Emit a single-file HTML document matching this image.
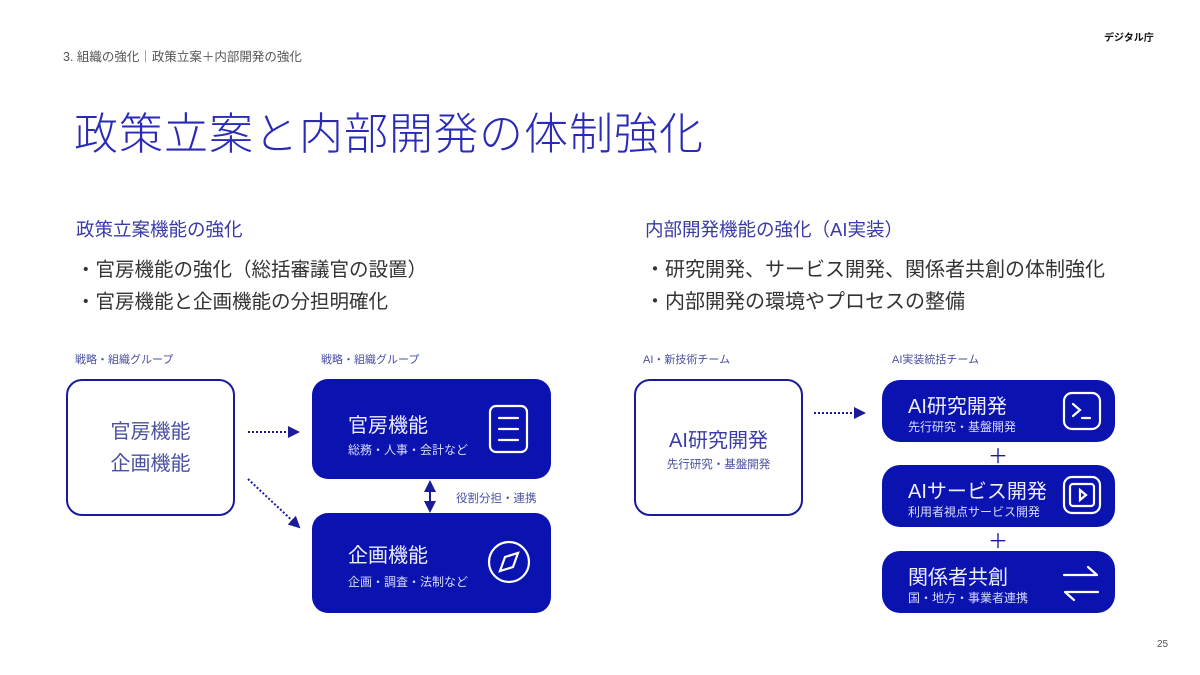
<!DOCTYPE html>
<html><head><meta charset="utf-8"><style>
*{margin:0;padding:0;box-sizing:border-box}
body{width:1200px;height:675px;background:#fff;position:relative;overflow:hidden;font-family:"Liberation Sans","Noto Sans CJK JP",sans-serif}
.a{position:absolute;white-space:nowrap}
.hd{left:63px;top:46px;font-size:12.5px;color:#555}
.logo{left:1104px;top:29px;font-size:10px;font-weight:bold;color:#111}
.title{left:74px;top:98px;font-size:44px;color:#2a2ab8;font-weight:300;letter-spacing:1px}
.sec{font-size:18.5px;color:#3a3aa8}
.bul{color:#333}
.gl{font-size:11px;color:#4a50a0}
.ob{position:absolute;border:2px solid #1a1a9a;border-radius:16px;background:#fff}
.db{position:absolute;background:#0a12b0;border-radius:16px;color:#fff}
.db .t{position:absolute;font-size:20px;color:#eef;white-space:nowrap}
.db .s{position:absolute;font-size:12px;color:#d8dcff;white-space:nowrap}
.pl{position:absolute;font-size:20px;color:#1a1a9a;left:988px}
</style></head><body>
<div class="a hd">3. 組織の強化｜政策立案＋内部開発の強化</div>
<div class="a logo">デジタル庁</div>
<div class="a title">政策立案と内部開発の体制強化</div>

<div class="a sec" style="left:76px;top:216px">政策立案機能の強化</div>
<div class="a bul" style="left:76px;top:253px;font-size:19.5px">・官房機能の強化（総括審議官の設置）</div>
<div class="a bul" style="left:76px;top:285px;font-size:19.5px">・官房機能と企画機能の分担明確化</div>
<div class="a sec" style="left:645px;top:216px">内部開発機能の強化（AI実装）</div>
<div class="a bul" style="left:645px;top:253px;font-size:20px">・研究開発、サービス開発、関係者共創の体制強化</div>
<div class="a bul" style="left:645px;top:285px;font-size:20px">・内部開発の環境やプロセスの整備</div>

<div class="a gl" style="left:75px;top:351px">戦略・組織グループ</div>
<div class="a gl" style="left:321px;top:351px">戦略・組織グループ</div>
<div class="a gl" style="left:643px;top:351px">AI・新技術チーム</div>
<div class="a gl" style="left:892px;top:351px">AI実装統括チーム</div>

<div class="ob" style="left:66px;top:379px;width:169px;height:137px"></div>
<div class="a" style="left:66px;top:416px;width:169px;text-align:center;font-size:20px;color:#4a50a0;line-height:32px">官房機能<br>企画機能</div>

<div class="ob" style="left:634px;top:379px;width:169px;height:137px"></div>
<div class="a" style="left:634px;top:424px;width:169px;text-align:center;font-size:20px;color:#3a3aa8">AI研究開発</div>
<div class="a" style="left:634px;top:456px;width:169px;text-align:center;font-size:11.5px;color:#4a50a0">先行研究・基盤開発</div>

<div class="db" style="left:312px;top:379px;width:239px;height:100px">
<div class="t" style="left:36px;top:30px">官房機能</div>
<div class="s" style="left:36px;top:62px">総務・人事・会計など</div>
</div>
<div class="db" style="left:312px;top:513px;width:239px;height:100px">
<div class="t" style="left:36px;top:26px">企画機能</div>
<div class="s" style="left:36px;top:60px">企画・調査・法制など</div>
</div>
<div class="db" style="left:882px;top:380px;width:233px;height:62px;border-radius:18px">
<div class="t" style="left:26px;top:10px">AI研究開発</div>
<div class="s" style="left:26px;top:38px">先行研究・基盤開発</div>
</div>
<div class="db" style="left:882px;top:465px;width:233px;height:62px;border-radius:18px">
<div class="t" style="left:26px;top:10px">AIサービス開発</div>
<div class="s" style="left:26px;top:38px">利用者視点サービス開発</div>
</div>
<div class="db" style="left:882px;top:551px;width:233px;height:62px;border-radius:18px">
<div class="t" style="left:26px;top:10px">関係者共創</div>
<div class="s" style="left:26px;top:38px">国・地方・事業者連携</div>
</div>
<div class="pl" style="top:440px">＋</div>
<div class="pl" style="top:525px">＋</div>
<div class="a gl" style="left:456px;top:490px;font-size:11.5px">役割分担・連携</div>

<svg class="a" style="left:0;top:0" width="1200" height="675">
<defs><marker id="ar" markerWidth="6" markerHeight="6" refX="5" refY="3" orient="auto"><path d="M0,0L6,3L0,6z" fill="#1a1a9a"/></marker>
<marker id="ar2" markerWidth="6" markerHeight="6" refX="3" refY="3" orient="auto-start-reverse"><path d="M0,0L6,3L0,6z" fill="#1a1a9a"/></marker></defs>
<g stroke="#1a1a9a" stroke-width="2" fill="none">
<line x1="248" y1="432" x2="298" y2="432" stroke-dasharray="2,2" marker-end="url(#ar)"/>
<line x1="248" y1="479" x2="299" y2="527" stroke-dasharray="2,2" marker-end="url(#ar)"/>
<line x1="814" y1="413" x2="864" y2="413" stroke-dasharray="2,2" marker-end="url(#ar)"/>
<line x1="430" y1="486" x2="430" y2="507" marker-start="url(#ar2)" marker-end="url(#ar2)"/>
</g>
<g stroke="#fff" stroke-width="2.2" fill="none" stroke-linecap="round">
<rect x="490" y="406" width="37" height="46" rx="6"/>
<line x1="499" y1="418" x2="518" y2="418"/><line x1="499" y1="429" x2="518" y2="429"/><line x1="499" y1="440" x2="518" y2="440"/>
<circle cx="509" cy="562" r="20"/>
<path d="M518,553 L513,567 L500,571 L505,557 Z"/>
<rect x="1064" y="393" width="36" height="36" rx="8"/>
<path d="M1073,404 L1080,410 L1073,416"/><line x1="1082" y1="418" x2="1090" y2="418"/>
<rect x="1064" y="477" width="36" height="36" rx="8"/>
<rect x="1070" y="484" width="24" height="22" rx="3"/>
<path d="M1080,490 L1086,495 L1080,500 Z"/>
<line x1="1064" y1="575" x2="1096" y2="575"/><path d="M1088,567 L1097,575"/>
<line x1="1066" y1="592" x2="1098" y2="592"/><path d="M1074,600 L1065,592"/>
</g>
</svg>
<div class="a" style="left:1157px;top:639px;font-size:10px;color:#555">25</div>
</body></html>
